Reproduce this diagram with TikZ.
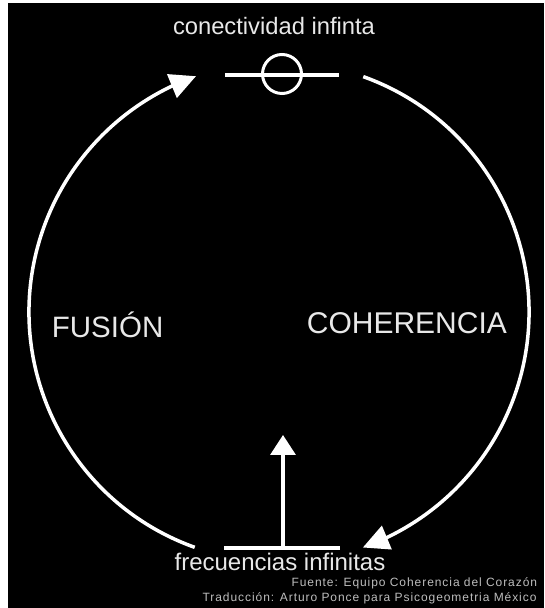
\documentclass[tikz,border=0pt]{standalone}
\usepackage{fontspec}
\setmainfont{Liberation Sans}
\usetikzlibrary{arrows.meta,bending,calc}
\definecolor{lblc}{HTML}{E8E8E8}
\definecolor{footc}{HTML}{BDBDBD}
\begin{document}
\begin{tikzpicture}[x=1pt,y=1pt,
  lbl/.style={text=lblc, inner sep=0pt, anchor=base west},
  footlbl/.style={text=footc, inner sep=0pt, anchor=base east,
    font={\fontsize{12}{14}\selectfont\addfontfeature{LetterSpace=7.8}}},
  ring/.style={draw=white, line width=3.5pt},
  bar/.style={draw=white, line width=3.5pt},
  tipA/.style={-{Triangle[length=26pt,width=25pt]}},
  tipB/.style={-{Triangle[length=20pt,width=25pt]}}]
\fill[white] (0,0) rectangle (544,608);
\fill[black] (8,0) rectangle (544,605);
\useasboundingbox (0,0) rectangle (544,608);
% circle of the cycle
\coordinate (c) at (279,296);
\coordinate (r1) at ($(c)+(70.3:250)$);
\coordinate (l1) at ($(c)+(250.3:250)$);
\draw[ring, tipA] (r1) arc[start angle=70.3, end angle=-70.4, radius=250];
\draw[ring, tipA] (l1) arc[start angle=250.3, end angle=109.4, radius=250];
% top symbol
\coordinate (t1) at (225,533);
\coordinate (t2) at (339,533);
\draw[bar] (t1) -- (t2);
\node[circle, draw=white, line width=3pt, minimum size=39pt, inner sep=0pt] (o) at (282,534) {};
% bottom symbol
\coordinate (b1) at (224,60);
\coordinate (b2) at (340,60);
\coordinate (bm) at (283,60);
\coordinate (up) at (283,173);
\draw[bar] (b1) -- (b2);
\draw[bar, tipB] (bm) -- (up);
% labels
\node[lbl, anchor=base, font=\fontsize{23.75}{28}\selectfont] (conn) at (274,573) {conectividad infinta};
\node[lbl, font=\fontsize{29.5}{34}\selectfont] (fus) at (51.7,270.7) {FUSIÓN};
\node[lbl, font=\fontsize{30}{34}\selectfont] (coh) at (306.7,274.7) {COHERENCIA};
\node[lbl, anchor=base, font=\fontsize{24}{28}\selectfont] (frec) at (280,37.3) {frecuencias infinitas};
\node[footlbl] (fte) at (537.3,21.3) {Fuente: Equipo Coherencia del Corazón};
\node[footlbl] (trad) at (536.7,6.3) {Traducción: Arturo Ponce para Psicogeometria México};
\end{tikzpicture}
\end{document}
